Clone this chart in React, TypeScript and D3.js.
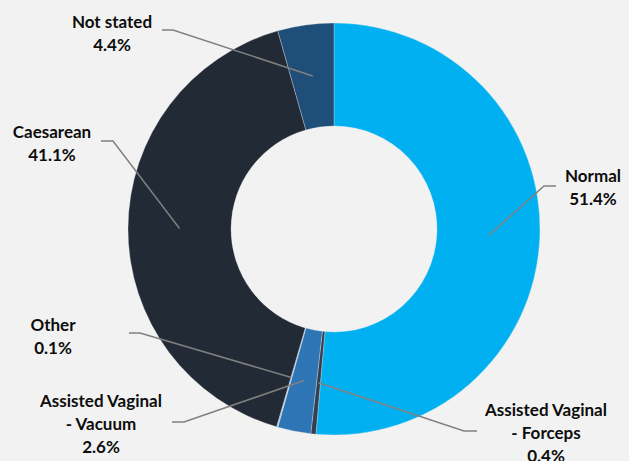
import React from "react";
import * as d3 from "d3";

const categories = [
  "Normal",
  "Assisted Vaginal - Forceps",
  "Assisted Vaginal - Vacuum",
  "Other",
  "Caesarean",
  "Not stated",
];
const values = [51.4, 0.4, 2.6, 0.1, 41.1, 4.4];
const labelLines = [
  ["Normal", "51.4%"],
  ["Assisted Vaginal", "- Forceps", "0.4%"],
  ["Assisted Vaginal", "- Vacuum", "2.6%"],
  ["Other", "0.1%"],
  ["Caesarean", "41.1%"],
  ["Not stated", "4.4%"],
];
const colors = ["#00B0F0", "#333F50", "#2E75B6", "#9DC3E6", "#222A35", "#1F4E79"];

// label layout: text center x, first line center y, leader start (x,y), elbow x
const labelLayout = [
  { tx: 593, ty: 175, lx: 556, ly: 186, ex: 544 },
  { tx: 546, ty: 409, lx: 477, ly: 431, ex: 464 },
  { tx: 101, ty: 400, lx: 172, ly: 422, ex: 184 },
  { tx: 53, ty: 324, lx: 129, ly: 333, ex: 140 },
  { tx: 52, ty: 131, lx: 101, ly: 141, ex: 113 },
  { tx: 112, ty: 21, lx: 162, ly: 30, ex: 173 },
];

const W = 629;
const H = 461;
const cx = 334;
const cy = 229;
const R = 206;
const r = 103;
const lineH = 23;

export default function App() {
  const pie = d3.pie<number>().sort(null).value((d) => d)(values);
  const arc = d3.arc<d3.PieArcDatum<number>>().innerRadius(r).outerRadius(R);
  const mid = (r + R) / 2;
  return (
    <svg
      width={W}
      height={H}
      style={{ position: "absolute", left: 0, top: 0, background: "#F2F2F2" }}
    >
      <rect width={W} height={H} fill="#F2F2F2" />
      <g transform={`translate(${cx},${cy})`}>
        {pie.map((p, i) => (
          <path key={categories[i]} d={arc(p) || ""} fill={colors[i]} stroke="#F2F2F2" strokeWidth={0.3} />
        ))}
      </g>
      {pie.map((p, i) => {
        const a = (p.startAngle + p.endAngle) / 2;
        const px = cx + mid * Math.sin(a);
        const py = cy - mid * Math.cos(a);
        const L = labelLayout[i];
        return (
          <polyline
            key={"l" + i}
            points={`${L.lx},${L.ly} ${L.ex},${L.ly} ${px},${py}`}
            fill="none"
            stroke="#808080"
            strokeWidth={1.5}
          />
        );
      })}
      {labelLines.map((lines, i) => {
        const L = labelLayout[i];
        return (
          <text
            key={"t" + i}
            textAnchor="middle"
            fontFamily="Lato, 'Open Sans', sans-serif"
            fontWeight={700}
            fontSize={17}
            fill="#0D0D0D"
          >
            {lines.map((s, j) => (
              <tspan key={j} x={L.tx} y={L.ty + j * lineH} dominantBaseline="central">
                {s}
              </tspan>
            ))}
          </text>
        );
      })}
    </svg>
  );
}
